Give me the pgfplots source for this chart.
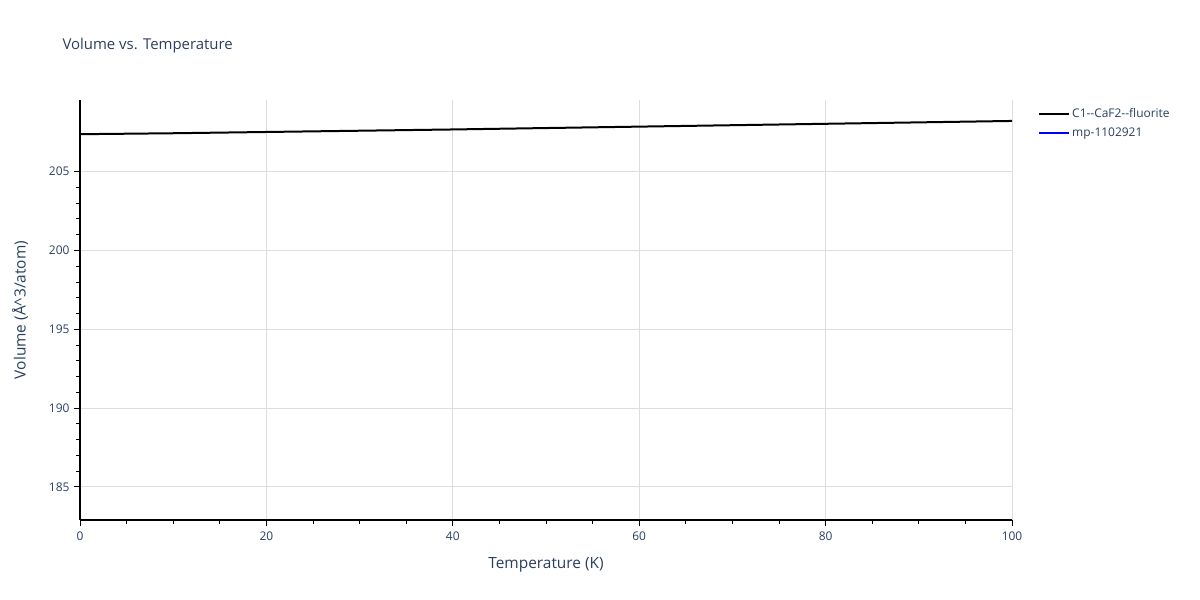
\documentclass[border=0pt]{standalone}
\usepackage{pgfplots}
\pgfplotsset{compat=1.18}
\usepackage{fontspec}
\setmainfont{Open Sans}
\definecolor{plotlytext}{HTML}{2A3F5F}
\definecolor{plotlygrid}{HTML}{DDDDDD}
\begin{document}
\begin{tikzpicture}
\path[use as bounding box] (0,0) rectangle (1200bp,600bp);
\begin{axis}[
    scale only axis,
    at={(80bp,80bp)}, anchor=south west,
    width=932bp, height=420bp,
    xmin=0, xmax=100, ymin=182.9, ymax=209.55,
    axis x line*=bottom, axis y line*=left,
    axis line style={black, line width=1.2bp},
    xtick={0,20,...,100}, ytick={185,190,...,205},
    minor x tick num=3, minor y tick num=4,
    tick align=outside,
    major tick length=6bp, minor tick length=4bp,
    tick style={black, line width=1bp},
    grid=major,
    major grid style={plotlygrid, line width=1bp},
    every tick label/.append style={font=\fontsize{12}{14}\selectfont, text=plotlytext},
    /pgf/number format/assume math mode=true,
    xticklabel style={yshift=-2bp},
    yticklabel style={xshift=-1bp},
    xlabel={Temperature (K)},
    ylabel={Volume (Å\textasciicircum3/atom)},
    label style={font=\fontsize{15.5}{17}\selectfont, text=plotlytext},
    xlabel style={yshift=-10bp},
    ylabel style={yshift=14bp},
    legend style={at={(1.0247,0.99)}, anchor=north west, draw=none, fill=none,
        font=\fontsize{12}{14}\selectfont, text=plotlytext, row sep=5bp,
        legend cell align=left},
    legend image code/.code={\draw[#1, line width=2bp] (0bp,0bp) -- (30bp,0bp);},
]
\addplot[black, line width=2bp] coordinates {
    (0,207.38) (10,207.44) (20,207.52) (30,207.60) (40,207.68) (50,207.77)
    (60,207.86) (70,207.95) (80,208.04) (90,208.13) (100,208.22)
};
\addlegendentry{C1{-}{-}CaF2{-}{-}fluorite}
\addlegendimage{blue}
\addlegendentry{mp-1102921}
\end{axis}
\node[anchor=west, font=\fontsize{15}{17}\selectfont, text=plotlytext] at (59bp,554bp) {Volume vs. Temperature};
\end{tikzpicture}
\end{document}
